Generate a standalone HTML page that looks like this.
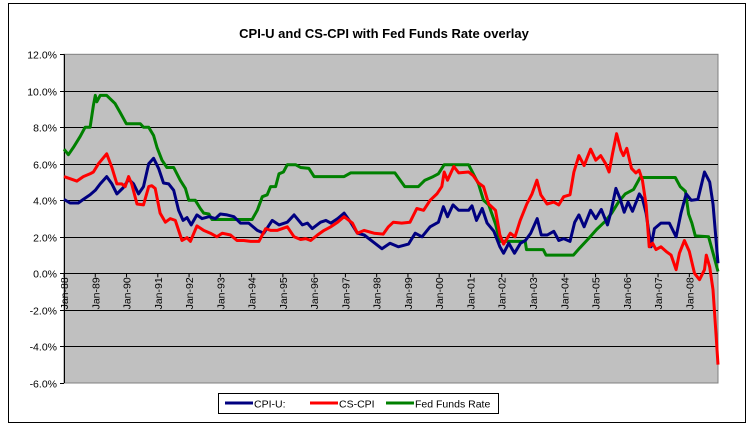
<!DOCTYPE html>
<html><head><meta charset="utf-8"><style>
html,body{margin:0;padding:0;background:#fff;}
svg{display:block;font-family:"Liberation Sans",Arial,sans-serif;}
</style></head><body>
<svg id="chart" width="752" height="429" viewBox="0 0 752 429">
<rect x="8.5" y="3.5" width="737" height="419" fill="#fff" stroke="#000" stroke-width="1"/>
<text x="384" y="38" text-anchor="middle" font-size="13" font-weight="bold">CPI-U and CS-CPI with Fed Funds Rate overlay</text>
<rect x="64" y="54.3" width="654" height="328.7" fill="#c0c0c0" stroke="#808080"/>
<g id="grid"></g><g id="yt"></g><g id="xt"></g><g id="series"></g>
<g>
<rect x="218.5" y="393.5" width="280" height="20" fill="#fff" stroke="#000"/>
<line x1="225" y1="403" x2="253" y2="403" stroke="#000080" stroke-width="3"/>
<text x="254" y="407.5" font-size="10.5">CPI-U:</text>
<line x1="310" y1="403" x2="338" y2="403" stroke="#ff0000" stroke-width="3"/>
<text x="339" y="407.5" font-size="10.5">CS-CPI</text>
<line x1="386" y1="403" x2="414" y2="403" stroke="#008000" stroke-width="3"/>
<text x="415" y="407.5" font-size="10.5">Fed Funds Rate</text>
</g>
</svg>
<script>
const yTicks=[12,10,8,6,4,2,0,-2,-4,-6];
const yearLabels=['Jan-88','Jan-89','Jan-90','Jan-91','Jan-92','Jan-93','Jan-94','Jan-95','Jan-96','Jan-97','Jan-98','Jan-99','Jan-00','Jan-01','Jan-02','Jan-03','Jan-04','Jan-05','Jan-06','Jan-07','Jan-08'];
const ffMonths=[0,1.7,3.6,6.2,8.1,10,11.3,12,12.6,13.9,16.4,19.6,21.6,23.9,29.3,30.5,32.5,34.4,35.7,37.6,39.5,42.1,44.6,46.6,47.9,50.4,52.3,53.6,55.6,56.8,72.2,74.2,76.1,78,79.3,81.2,82.5,84.2,85.7,88.9,90.8,94,96,107.5,110,117.4,127,130.8,136,138.5,141.7,143.7,145.9,155.3,157.1,159.1,161,163,165.6,167.3,177,177.5,183.9,185,195.5,198,201.3,204.4,207.7,210.2,212.8,215.4,218.6,221.1,234.6,236.5,238.5,239.7,241,242.3,247.4,249.3,251];
const ffValues=[6.8,6.5,6.9,7.5,8.0,8.0,9.2,9.75,9.4,9.75,9.75,9.3,8.8,8.2,8.2,8.0,8.0,7.55,6.9,6.2,5.8,5.8,5.1,4.65,4.0,4.0,3.55,3.3,3.25,2.95,2.95,3.45,4.2,4.3,4.75,4.75,5.45,5.55,5.95,5.95,5.8,5.75,5.3,5.3,5.5,5.5,5.5,4.75,4.75,5.1,5.3,5.45,5.95,5.95,5.45,4.9,4.0,3.75,2.7,1.75,1.75,1.3,1.3,1.0,1.0,1.4,1.9,2.4,2.85,3.3,3.9,4.35,4.6,5.25,5.25,4.75,4.5,3.25,2.75,2.05,2.0,1.0,0.1];
const csMonths=[0,4.9,7.4,10,11.3,13.2,16.4,18.4,20.3,22.2,23.5,24.8,26,28,30.5,32.5,33.7,35,36.9,38.9,40.8,42.7,45.3,47.2,48.5,51,53.6,56.2,58.7,60.7,63.9,66.4,69,71.6,74.8,77.4,79.3,81.8,85.7,88.3,90.8,92.8,94.7,97.3,99.8,102.4,105,107.5,110.7,112.6,115.2,119,122.5,124.5,126.4,129.6,132.8,135.4,138,140.5,143.1,145,145.9,147.2,149.6,151.5,155.3,157.1,159.1,161,163,165.6,167.3,168.7,171.3,173.1,175.1,177.6,179.6,181.5,183,185.4,188,189.9,191.8,194.2,195.7,197.6,199.6,202.1,204.1,206,207.9,209.2,210.5,212.1,213.7,214.7,216,217.8,219.5,220.7,222,223.4,224.6,225.9,227.2,229.1,231.1,233,234.9,236.2,238.1,240,242,243.9,245.8,246.5,247.8,249.1,250.4,251];
const csValues=[5.3,5.05,5.3,5.45,5.55,6.0,6.55,5.8,4.9,4.9,4.75,5.3,4.9,3.8,3.75,4.75,4.8,4.65,3.3,2.8,3.0,2.9,1.8,1.95,1.75,2.6,2.35,2.2,2.0,2.2,2.1,1.8,1.8,1.75,1.75,2.45,2.35,2.35,2.55,2.0,1.85,1.9,1.8,2.1,2.35,2.55,2.8,3.1,2.75,2.2,2.35,2.2,2.15,2.55,2.8,2.75,2.8,3.55,3.45,4.0,4.35,4.75,5.55,5.1,5.85,5.5,5.55,5.35,4.95,4.75,3.8,3.45,2.1,1.6,2.2,2.0,2.9,3.8,4.35,5.1,4.3,3.8,3.9,3.75,4.2,4.3,5.55,6.45,5.9,6.8,6.2,6.45,6.0,5.55,6.55,7.65,6.75,6.45,6.85,5.75,5.5,5.65,5.1,3.75,1.45,1.65,1.3,1.45,1.2,1.0,0.2,1.1,1.8,1.2,0.0,-0.35,0.2,1.0,0.35,-0.9,-3.65,-5.0];
const cpiMonths=[0,2.3,5.5,7.4,10,12,13.9,16.4,18.4,20.3,22.8,24.8,26.7,28.6,30.5,32.5,34.4,36.3,38.2,40.2,42.1,44,45.7,47.2,48.8,51,53,55.6,58.1,60,62.6,65.2,67.7,70.9,74.2,76.7,79.9,82.5,85.7,88.3,91.5,93.4,95.3,98.5,100.5,102.4,105,107.5,110,112.6,115.2,118.4,122,125.1,128.3,132.2,134.8,137.4,140.5,143.7,145.6,147.2,149.3,151.5,155.3,156.6,158.3,160.5,162.4,165,167.3,168.7,170.7,172.9,175.2,177.1,179.1,181.6,183.2,185.5,188,189.9,191.8,194.2,196,197.6,199.6,202.1,204.1,206.2,208.6,209.8,211.8,213.4,215,216.5,218.2,220.8,222,223.4,225.3,226.6,229.1,232.3,234.9,236.8,238.8,240.7,243.3,245.8,247.8,249.1,251];
const cpiValues=[4.05,3.85,3.85,4.05,4.3,4.55,4.9,5.3,4.9,4.35,4.7,5.15,4.9,4.35,4.75,6.0,6.3,5.75,4.95,4.9,4.55,3.45,2.9,3.05,2.65,3.2,3.0,3.1,3.0,3.25,3.2,3.1,2.75,2.75,2.35,2.2,2.9,2.65,2.8,3.2,2.65,2.75,2.45,2.8,2.9,2.75,3.0,3.3,2.8,2.2,2.1,1.75,1.35,1.65,1.45,1.6,2.2,2.0,2.55,2.8,3.65,3.1,3.75,3.45,3.45,3.7,2.9,3.55,2.75,2.3,1.45,1.1,1.65,1.1,1.65,1.8,2.2,3.0,2.1,2.1,2.3,1.8,1.9,1.75,2.8,3.2,2.55,3.45,3.0,3.5,2.65,3.3,4.65,4.1,3.35,3.9,3.4,4.35,4.1,3.3,1.45,2.45,2.75,2.75,2.0,3.3,4.35,4.0,4.05,5.55,5.0,3.8,0.55];

const NS='http://www.w3.org/2000/svg';
const X0=64,X1=718,Y12=54.3,Y0=273.3,PER=18.25;
function xm(m){return X0+m*(X1-X0)/251;}
function yv(v){return Y0-v*PER;}
function mk(tag,attrs,parent){const e=document.createElementNS(NS,tag);for(const k in attrs)e.setAttribute(k,attrs[k]);parent.appendChild(e);return e;}
const grid=document.getElementById('grid'),yt=document.getElementById('yt'),xt=document.getElementById('xt'),ser=document.getElementById('series');
yTicks.forEach(t=>{
  const y=Math.round(yv(t))+0.5;
  if(t<12&&t>-6){const g=mk('line',{x1:X0,x2:X1,y1:y,y2:y,stroke:'#000','stroke-width':1},grid);
  
  }
  mk('line',{x1:X0-4,x2:X0,y1:y,y2:y,stroke:'#000'},yt);
  const tx=mk('text',{x:X0-7,y:y+4,'text-anchor':'end','font-size':'10.5'},yt);
  tx.textContent=t.toFixed(1)+'%';
  
  
});
mk('line',{x1:X0+0.5,x2:X0+0.5,y1:Y12,y2:383,stroke:'#000'},yt);
yearLabels.forEach((lab,i)=>{
  const x=xm(i*12);
  mk('line',{x1:x,x2:x,y1:Y0,y2:Y0+4,stroke:'#000'},xt);
  const tx=mk('text',{x:0,y:0,'font-size':'10.5','text-anchor':'end',transform:'translate('+(x+4)+','+(Y0+4)+') rotate(-90)'},xt);
  tx.textContent=lab;
  
  
});
function line(ms,vs,color,name){
  const d=ms.map((m,i)=>(i?'L':'M')+xm(m).toFixed(1)+','+yv(vs[i]).toFixed(1)).join('');
  const p=mk('path',{d:d,fill:'none',stroke:color,'stroke-width':3,'stroke-linejoin':'round'},ser);
  
  
}
line(ffMonths,ffValues,'#008000','fed-funds-line');
line(cpiMonths,cpiValues,'#000080','cpi-u-line');
line(csMonths,csValues,'#ff0000','cs-cpi-line');
</script>
</body></html>
